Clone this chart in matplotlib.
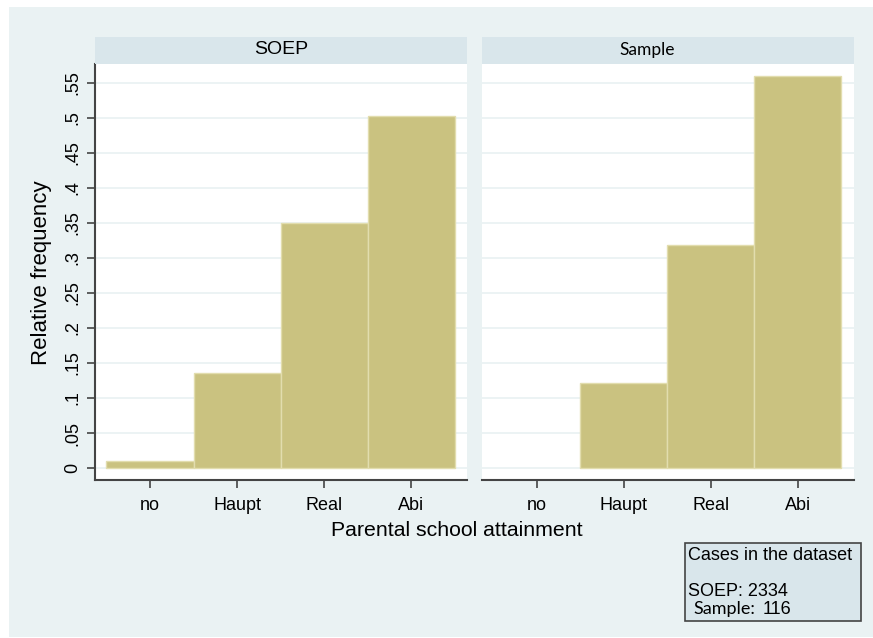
import matplotlib
matplotlib.use("Agg")
import matplotlib.pyplot as plt
from matplotlib.patches import Rectangle

# parental school attainment, relative frequencies
categories = ["no", "Haupt", "Real", "Abi"]
soep_freq = [0.0105, 0.136, 0.350, 0.503]
sample_freq = [0.0, 0.121, 0.319, 0.560]
yticks = [0, 0.05, 0.1, 0.15, 0.2, 0.25, 0.3, 0.35, 0.4, 0.45, 0.5, 0.55]
ytick_labels = ["0", ".05", ".1", ".15", ".2", ".25", ".3", ".35", ".4", ".45", ".5", ".55"]
n_soep = 2334
n_sample = 116

bg = "#eaf2f3"
strip_col = "#d9e6eb"
bar_col = "#cac280"
edge_col = "#e2ddae"
axis_col = "#444444"

W, H = 873, 638
fig = plt.figure(figsize=(W / 100, H / 100), dpi=100, facecolor="white")

def fx(px):
    return px / W

def fy(py):
    return 1 - py / H

# background panel
fig.patches.append(Rectangle((fx(9), fy(637)), 1 - fx(9), fy(7) - fy(637),
                             transform=fig.transFigure, facecolor=bg,
                             edgecolor="none", zorder=-10))

# title, values, left edge (px), font, size, title centre (px)
panels = [("SOEP", soep_freq, 95, "Liberation Sans", 14, 281),
          ("Sample", sample_freq, 481.5, "Lato", 12.5, 647)]

x = list(range(len(categories)))
for i, (title, vals, left, tfont, tsize, tx) in enumerate(panels):
    ax = fig.add_axes([fx(left), fy(480), 372 / W, fy(64) - fy(480)])
    ax.set_facecolor("white")
    bars = ax.bar(x, vals, width=1.0, color=bar_col, edgecolor=edge_col,
                  linewidth=1, zorder=3)
    for b, v in zip(bars, vals):
        if v == 0:
            b.set_visible(False)
    ax.set_xlim(-0.632, 3.642)
    ax.set_ylim(-0.0171, 0.5771)
    ax.set_yticks(yticks)
    ax.yaxis.grid(True, color=bg, linewidth=1.3, zorder=0)
    ax.xaxis.grid(False)
    ax.set_axisbelow(True)
    ax.set_xticks(x)
    ax.set_xticklabels(categories, fontsize=13, family="Liberation Sans")
    ax.tick_params(axis="x", length=6, width=1.2, color=axis_col, pad=6)
    for s in ["top", "right"]:
        ax.spines[s].set_visible(False)
    ax.spines["bottom"].set_color(axis_col)
    ax.spines["bottom"].set_linewidth(1.5)
    if i == 0:
        ax.set_yticklabels(ytick_labels, fontsize=13, family="Liberation Sans",
                           rotation=90, va="center")
        ax.tick_params(axis="y", length=6, width=1.2, color=axis_col, pad=4)
        ax.spines["left"].set_color(axis_col)
        ax.spines["left"].set_linewidth(1.5)
    else:
        ax.spines["left"].set_visible(False)
        ax.tick_params(axis="y", left=False, labelleft=False)

    # strip title
    fig.patches.append(Rectangle((fx(left), fy(64)), 372 / W, fy(37) - fy(64),
                                 transform=fig.transFigure, facecolor=strip_col,
                                 edgecolor="none", zorder=1))
    fig.text(fx(tx), fy(50), title, ha="center", va="center",
             fontsize=tsize, family=tfont)

fig.text(fx(42), fy(273), "Relative frequency", ha="center", va="center",
         rotation=90, fontsize=16, family="Liberation Sans")
fig.text(fx(457), fy(531), "Parental school attainment", ha="center",
         va="center", fontsize=15.3, family="Liberation Sans")

# note box with case counts
fig.patches.append(Rectangle((fx(685), fy(621)), fx(861) - fx(685), fy(543) - fy(621),
                             transform=fig.transFigure, facecolor=strip_col,
                             edgecolor=axis_col, linewidth=1.2, zorder=1))
fig.text(fx(688), fy(555), "Cases in the dataset", ha="left", va="center",
         fontsize=13, family="Liberation Sans")
fig.text(fx(688), fy(591), "SOEP: %d" % n_soep, ha="left", va="center",
         fontsize=13, family="Liberation Sans")
fig.text(fx(693), fy(614), "Sample:", ha="left", va="baseline",
         fontsize=13, family="Lato")
fig.text(fx(763), fy(614), "%d" % n_sample, ha="left", va="baseline",
         fontsize=13, family="Liberation Sans")

fig.savefig("out.png", dpi=100, facecolor=fig.get_facecolor())
